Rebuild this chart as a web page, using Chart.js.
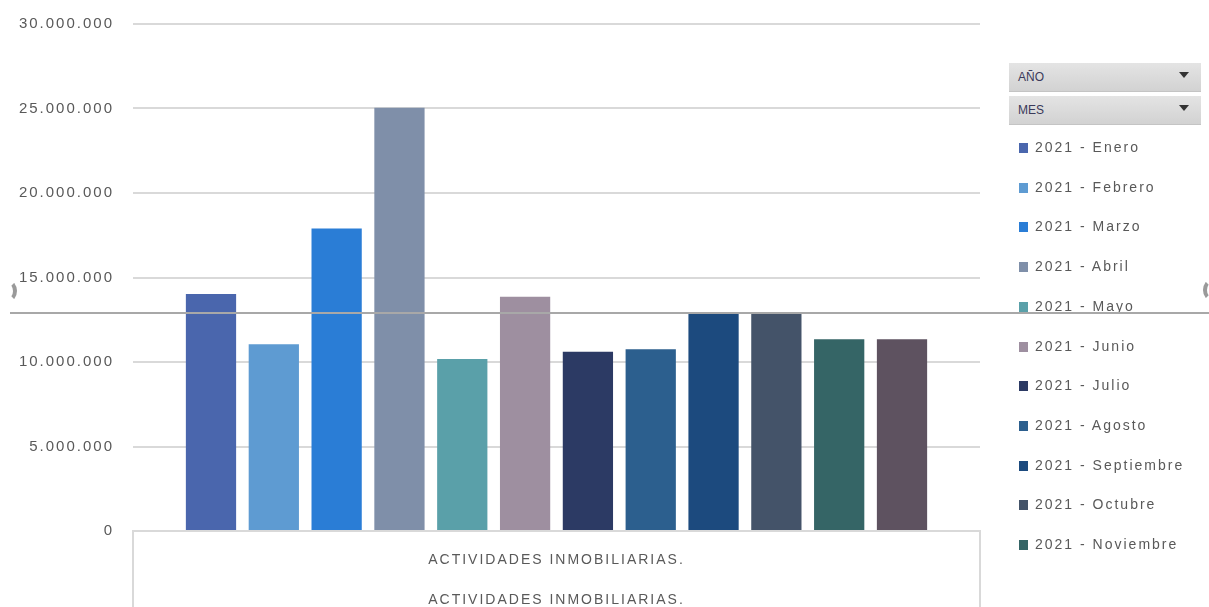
<!DOCTYPE html>
<html>
<head>
<meta charset="utf-8">
<script src="https://cdn.jsdelivr.net/npm/chart.js@4.4.1/dist/chart.umd.min.js"></script>
<style>
  html, body { margin: 0; padding: 0; background: #fff; }
  #wrap { position: relative; width: 1209px; height: 607px; overflow: hidden; }
  #chart { position: absolute; left: 0; top: 0; }
  .filtro {
    position: absolute; left: 1009px; width: 192px; height: 29px;
    background: linear-gradient(#e4e4e4, #d2d2d2);
    border-bottom: 1px solid #c4c4c4;
    font: 12px "Liberation Sans", sans-serif; color: #3a3a5a;
    box-sizing: border-box; padding: 7px 0 0 9px;
  }
  .filtro span { position: absolute; right: 12px; top: 9px; width: 0; height: 0;
    border-left: 5px solid transparent; border-right: 5px solid transparent; border-top: 6px solid #333; }
  #leyenda { position: absolute; left: 1019px; top: 127px; width: 190px; height: 432px; overflow: hidden; }
  .item { position: absolute; left: 0; height: 20px; font: 14px "Liberation Sans", sans-serif;
    color: #595959; letter-spacing: 2px; white-space: nowrap; line-height: 20px; }
  .item i { display: inline-block; width: 9px; height: 10px; margin-right: 7px; vertical-align: -1px; }
  #linea { position: absolute; left: 10px; top: 312px; width: 1199px; height: 2px; background: #a8a8a8; }
  .asa { position: absolute; width: 18px; height: 22px; border: 4px solid #9a9a9a; border-radius: 50%; box-sizing: border-box; }
</style>
</head>
<body>
<div id="wrap">
  <canvas id="chart" width="1209" height="607"></canvas>
  <div class="filtro" style="top:63px">AÑO<span></span></div>
  <div class="filtro" style="top:96px">MES<span></span></div>
  <div id="leyenda"></div>
  <div id="linea"></div>
  <div class="asa" style="left:-1px; top:280px; border-left-color:transparent; border-top-color:transparent; border-bottom-color:transparent;"></div>
  <div class="asa" style="left:1203px; top:279px; border-right-color:transparent; border-top-color:transparent; border-bottom-color:transparent;"></div>
</div>
<script>
var categoria = ['ACTIVIDADES INMOBILIARIAS.', 'ACTIVIDADES INMOBILIARIAS.'];
var meses = ['2021 - Enero', '2021 - Febrero', '2021 - Marzo', '2021 - Abril', '2021 - Mayo', '2021 - Junio',
             '2021 - Julio', '2021 - Agosto', '2021 - Septiembre', '2021 - Octubre', '2021 - Noviembre', '2021 - Diciembre'];
var valores = [14020000, 11050000, 17900000, 25050000, 10180000, 13860000,
               10610000, 10750000, 12880000, 12880000, 11340000, 11340000];
var colores = ['#4a66ad', '#5e9bd2', '#2a7dd6', '#7f8fa9', '#5aa0a9', '#9e8fa0',
               '#2c3a64', '#2c5f8e', '#1c4a7e', '#445369', '#356566', '#5e5260'];
var ticksY = [0, 5000000, 10000000, 15000000, 20000000, 25000000, 30000000];

function formato(v) {
    return String(v).replace(/\B(?=(\d{3})+(?!\d))/g, '.');
}

// leyenda
var leyenda = document.getElementById('leyenda');
for (var i = 0; i < meses.length; i++) {
    var d = document.createElement('div');
    d.className = 'item';
    d.style.top = (i * 39.7 + 10) + 'px';
    d.innerHTML = '<i style="background:' + colores[i] + '"></i>' + meses[i];
    leyenda.appendChild(d);
}

var datasets = [];
for (var i = 0; i < meses.length; i++) {
    datasets.push({
        label: meses[i],
        data: [valores[i]],
        backgroundColor: colores[i],
        categoryPercentage: 0.89,
        barPercentage: 0.8
    });
}

var espaciado = {
    id: 'espaciado',
    beforeUpdate: function (chart) { chart.ctx.letterSpacing = '2px'; },
    beforeDraw: function (chart) { chart.ctx.letterSpacing = '2px'; },
    afterDraw: function (chart) {
        var ctx = chart.ctx, a = chart.chartArea;
        ctx.save();
        ctx.strokeStyle = '#d9d9d9';
        ctx.lineWidth = 2;
        ctx.beginPath();
        ctx.moveTo(a.left, a.bottom);
        ctx.lineTo(a.left, chart.height);
        ctx.moveTo(a.right, a.bottom);
        ctx.lineTo(a.right, chart.height);
        ctx.stroke();
        ctx.restore();
    }
};

var canvas = document.getElementById('chart').getContext('2d');
var grafico = new Chart(canvas, {
    type: 'bar',
    data: { labels: [categoria], datasets: datasets },
    plugins: [espaciado],
    options: {
        responsive: false,
        animation: false,
        layout: { padding: { top: 24, right: 229, bottom: 0, left: 0 } },
        plugins: { legend: { display: false }, tooltip: { enabled: false } },
        scales: {
            x: {
                grid: { display: false },
                border: { display: true, color: '#d9d9d9', width: 2 },
                ticks: {
                    color: '#595959',
                    padding: 1,
                    maxRotation: 0,
                    font: { family: 'Liberation Sans', size: 14, lineHeight: '40px' }
                },
                afterFit: function (s) { s.height = 76; }
            },
            y: {
                min: 0,
                max: 30000000,
                afterBuildTicks: function (s) { s.ticks = ticksY.map(function (v) { return { value: v }; }); },
                grid: { color: '#d9d9d9', lineWidth: 2, drawTicks: true, tickLength: 16, tickColor: 'rgba(0,0,0,0)' },
                border: { display: false },
                ticks: {
                    color: '#595959',
                    padding: 3,
                    font: { family: 'Liberation Sans', size: 15 },
                    callback: function (v) { return formato(v); }
                },
                afterFit: function (s) { s.width = 133; }
            }
        }
    }
});
</script>
</body>
</html>
